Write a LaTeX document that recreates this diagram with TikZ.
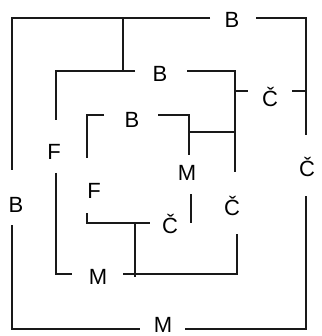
\documentclass[tikz,border=0pt]{standalone}
\usepackage{fontspec}
\setmainfont{Liberation Sans}
\begin{document}
\begin{tikzpicture}[x=1pt,y=-1pt,
  wire/.style={line width=1.8pt,line cap=butt,line join=miter,black!90},
  lbl/.style={anchor=base,inner sep=0pt,font=\fontsize{22}{22}\selectfont}]
\useasboundingbox (0,0) rectangle (321,336);
% labels
\node[lbl] (oB)  at (232,28)  {B};
\node[lbl] (oC)  at (307,177) {Č};
\node[lbl] (oBl) at (16,212)  {B};
\node[lbl] (oM)  at (163,332) {M};
\node[lbl] (sB)  at (160,82)  {B};
\node[lbl] (sF)  at (54,160)  {F};
\node[lbl] (sC)  at (232,215) {Č};
\node[lbl] (tC)  at (270,107) {Č};
\node[lbl] (sM)  at (98,284)  {M};
\node[lbl] (iB)  at (132,128) {B};
\node[lbl] (iF)  at (94,198)  {F};
\node[lbl] (iM)  at (187,181) {M};
\node[lbl] (iC)  at (170,233) {Č};
% outer frame
\draw[wire] (210,18) -- (12,18) -- (12,170);
\draw[wire] (12,225) -- (12,329) -- (140,329);
\draw[wire] (185,329) -- (306,329) -- (306,196);
\draw[wire] (306,135) -- (306,18) -- (256,18);
\draw[wire] (123,18) -- (123,71);
% second frame
\draw[wire] (135,71) -- (56,71) -- (56,120);
\draw[wire] (56,173) -- (56,274) -- (72,274);
\draw[wire] (123,274) -- (237,274) -- (237,234);
\draw[wire] (187,71) -- (235,71) -- (235,172);
\draw[wire] (235,91) -- (248,91);
\draw[wire] (292,91) -- (306,91);
\draw[wire] (189,132) -- (235,132);
% inner frame
\draw[wire] (104,115) -- (87,115) -- (87,158);
\draw[wire] (158,115) -- (189,115) -- (189,155);
\draw[wire] (191,194) -- (191,223);
\draw[wire] (87,213) -- (87,223) -- (150,223);
\draw[wire] (135,223) -- (135,277);
\end{tikzpicture}
\end{document}
